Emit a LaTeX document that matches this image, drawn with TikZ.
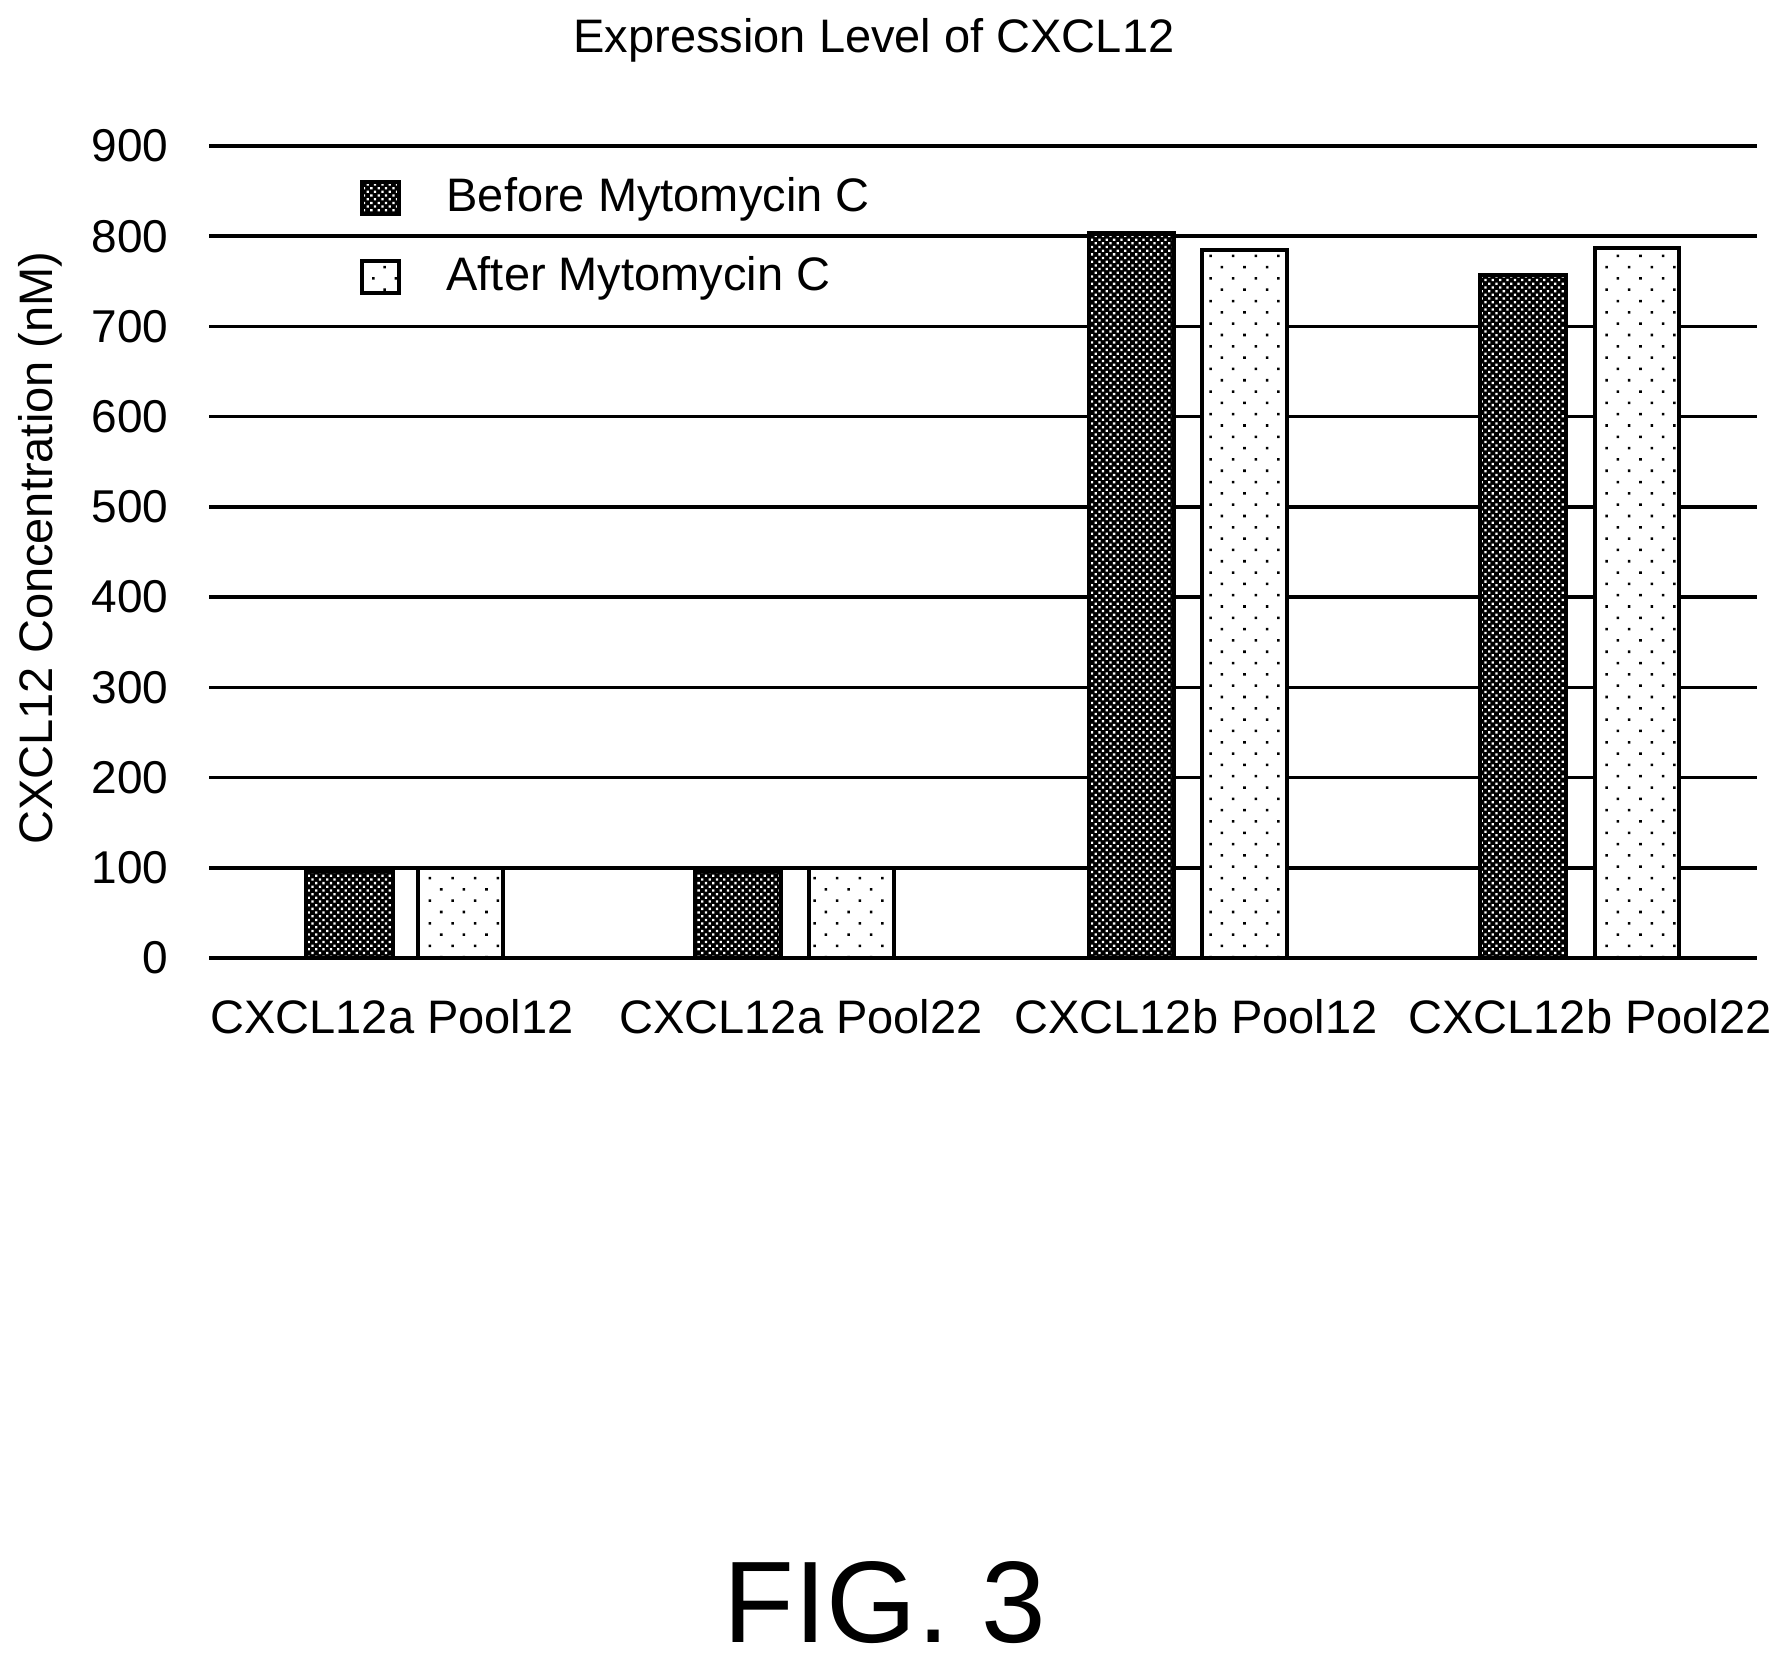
\documentclass[tikz,border=0pt]{standalone}
\usepackage{fontspec}
\setmainfont{Liberation Sans}
\usetikzlibrary{patterns.meta}
\begin{document}
\begin{tikzpicture}[x=1pt,y=-1pt,
  grid/.style={line width=3.5pt},
  before/.style={line width=4.5pt,preaction={fill=black},pattern={Dots[radius=1.6pt,distance=5.2pt,angle=45]},pattern color=white},
  after/.style={line width=4.5pt,fill=white,postaction={pattern={Dots[radius=1.8pt,distance=16pt,angle=45]},pattern color=black}},
  tick/.style={anchor=east,font=\fontsize{46}{46}\selectfont},
  cat/.style={font=\fontsize{47}{47}\selectfont},
  leg/.style={anchor=west,font=\fontsize{47}{47}\selectfont}]
\useasboundingbox (0,0) rectangle (1782,1670);
\foreach \v in {0,100,...,900}{
  \draw[grid] (209,{958-0.9022*\v}) -- (1757,{958-0.9022*\v});
  \node[tick] (t\v) at (172,{958-0.9022*\v}) {\v};
}
\foreach \n/\xa/\xb/\v/\s in {b1/306/393/97/before, a1/418/503/100/after, b2/695/781/97/before, a2/809/894/100/after, b3/1089/1174/803/before, a3/1202/1287/785/after, b4/1480/1566/757/before, a4/1595/1679/787/after}{
  \draw[\s] (\xa,958) rectangle (\xb,{958-0.9022*\v});
  \coordinate (\n) at ({(\xa+\xb)/2},958);
}
\node[font=\fontsize{47}{47}\selectfont] (title) at (874,40) {Expression Level of CXCL12};
\node[rotate=90,font=\fontsize{47}{47}\selectfont] (ylab) at (40,548) {CXCL12 Concentration (nM)};
\node[cat] (c1) at (392,1017) {CXCL12a Pool12};
\node[cat] (c2) at (801,1017) {CXCL12a Pool22};
\node[cat] (c3) at (1196,1017) {CXCL12b Pool12};
\node[cat] (c4) at (1590,1017) {CXCL12b Pool22};
\draw[before,line width=3.5pt] (362,182) rectangle (399,214);
\draw[after,line width=3.5pt] (362,261) rectangle (399,293);
\node[leg] (l1) at (443,199) {Before Mytomycin C};
\node[leg] (l2) at (443,278) {After Mytomycin C};
\node[font=\fontsize{116}{116}\selectfont] (fig) at (885,1603) {FIG. 3};
\end{tikzpicture}
\end{document}
